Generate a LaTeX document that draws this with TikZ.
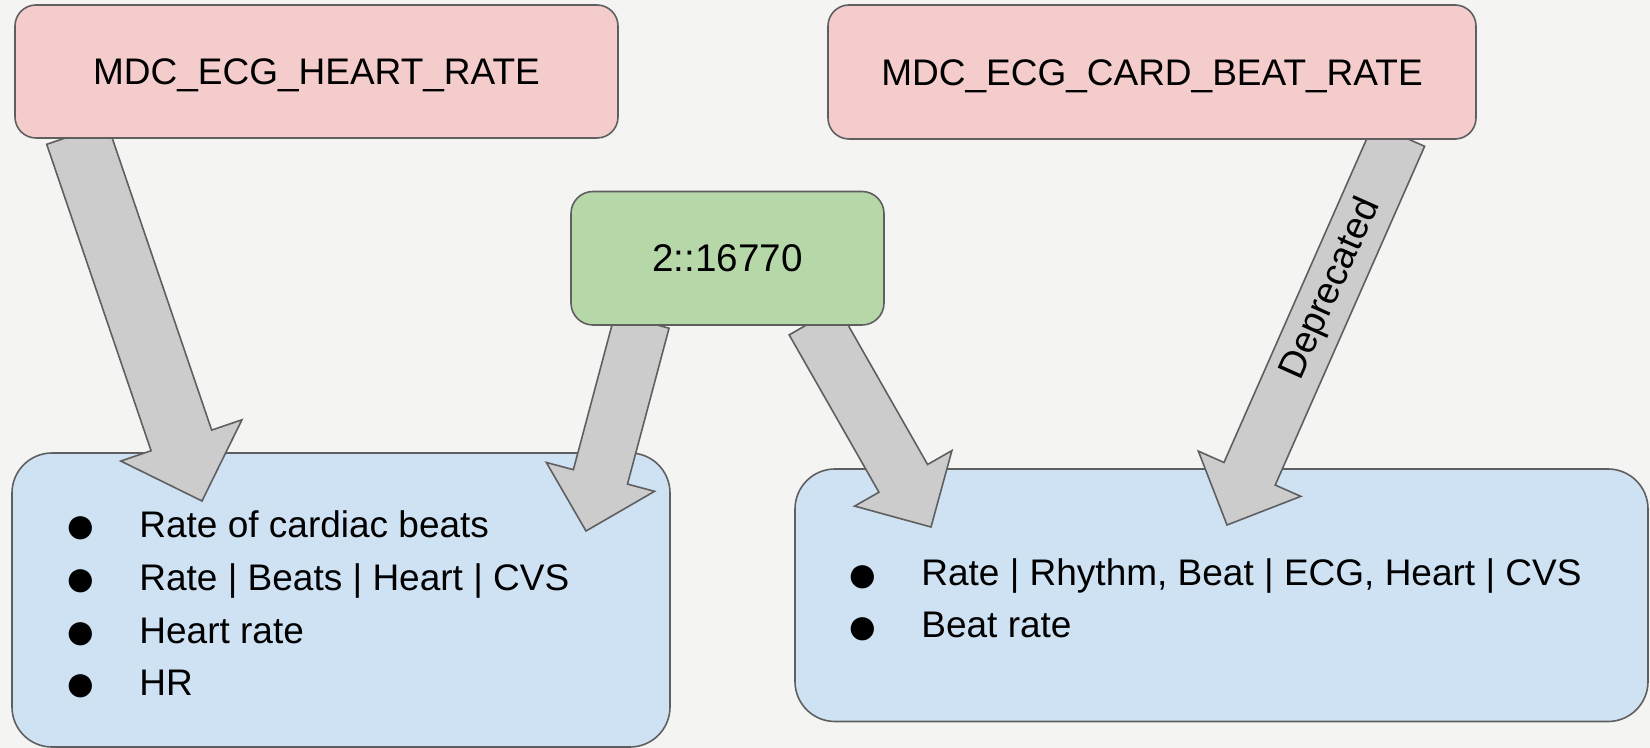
\documentclass[tikz,border=0pt]{standalone}
\usepackage{fontspec}
\setmainfont{Liberation Sans}
\usetikzlibrary{calc}
\definecolor{bg}{HTML}{F4F4F3}
\definecolor{pinkf}{HTML}{F4CCCC}
\definecolor{greenf}{HTML}{B6D7A8}
\definecolor{bluef}{HTML}{CFE2F3}
\definecolor{arrowf}{HTML}{CCCCCC}
\definecolor{edgec}{HTML}{5F5F5F}
% #1 start, #2 tip, #3 half shaft width, #4 shaft width, #5 prefix
\newcommand\blkarrow[5]{%
  \coordinate (#5b) at ($(#2)!#4!(#1)$);
  \draw[blockarrow]
    ($(#1)!#3!90:(#2)$) -- ($(#5b)!#3!90:(#2)$) -- ($(#5b)!#4!90:(#2)$) --
    (#2) -- ($(#5b)!#4!-90:(#2)$) -- ($(#5b)!#3!-90:(#2)$) --
    ($(#1)!#3!-90:(#2)$) -- cycle;
}
\begin{document}
\begin{tikzpicture}[x=0.5pt,y=-0.5pt,
  box/.style={draw=edgec,line width=0.8pt,inner sep=0pt,anchor=center},
  pinkbox/.style={box,fill=pinkf,rounded corners=10.5pt},
  greenbox/.style={box,fill=greenf,rounded corners=11pt},
  bluebox/.style={box,fill=bluef,rounded corners=20pt},
  hdr/.style={font=\fontsize{18.5}{22}\selectfont,text height=13.25pt,text depth=0pt},
  item/.style={font=\fontsize{18.5}{22}\selectfont,anchor=base west,inner sep=0pt},
  bul/.style={font=\fontsize{27}{30}\selectfont,anchor=base,inner sep=0pt},
  lbl/.style={font=\fontsize{18.8}{22}\selectfont,inner sep=0pt},
  blockarrow/.style={draw=edgec,line width=0.8pt,fill=arrowf,line join=miter}]
\fill[bg] (0,0) rectangle (1650,748);
\useasboundingbox (0,0) rectangle (1650,748);

% target boxes
\node[bluebox,minimum width=329pt,minimum height=147pt] (bl) at (341,600) {};
\node[bluebox,minimum width=426.5pt,minimum height=126.25pt] (br) at (1221.5,595.25) {};

\node[bul] (bl1b) at (81,544) {●};
\node[item] (bl1) at (139,538) {Rate of cardiac beats};
\node[bul] (bl2b) at (81,596.5) {●};
\node[item] (bl2) at (139,590.5) {Rate | Beats | Heart | CVS};
\node[bul] (bl3b) at (81,649) {●};
\node[item] (bl3) at (139,643) {Heart rate};
\node[bul] (bl4b) at (81,701.5) {●};
\node[item] (bl4) at (139,695.5) {HR};

\node[bul] (br1b) at (863,592) {●};
\node[item] (br1) at (921,586) {Rate | Rhythm, Beat | ECG, Heart | CVS};
\node[bul] (br2b) at (863,644) {●};
\node[item] (br2) at (921,638) {Beat rate};

% arrows
\coordinate (a1s) at (77,134);
\coordinate (a1t) at (202,501);
\coordinate (a2s) at (642,321);
\coordinate (a2t) at (586,531);
\coordinate (a3s) at (813.5,321);
\coordinate (a3t) at (931,527);
\coordinate (a4s) at (1399,135);
\coordinate (a4t) at (1227,525);
\blkarrow{a1s}{a1t}{16pt}{32pt}{a1}
\blkarrow{a2s}{a2t}{14pt}{28pt}{a2}
\blkarrow{a3s}{a3t}{14pt}{28pt}{a3}
\blkarrow{a4s}{a4t}{14pt}{28pt}{a4}
\path (a4s) -- (a4t) node[lbl,pos=0.395,rotate=65.9] (dep) {Deprecated};

% source boxes
\node[pinkbox,hdr,minimum width=301.5pt,minimum height=66.5pt] (hr) at (316.5,71.5) {MDC\_ECG\_HEART\_RATE};
\node[pinkbox,hdr,minimum width=324pt,minimum height=67pt] (cb) at (1152,72) {MDC\_ECG\_CARD\_BEAT\_RATE};
\node[greenbox,hdr,font=\fontsize{19.3}{22}\selectfont,minimum width=156.5pt,minimum height=66.75pt] (gr) at (727.5,258.25) {2::16770};
\end{tikzpicture}
\end{document}
